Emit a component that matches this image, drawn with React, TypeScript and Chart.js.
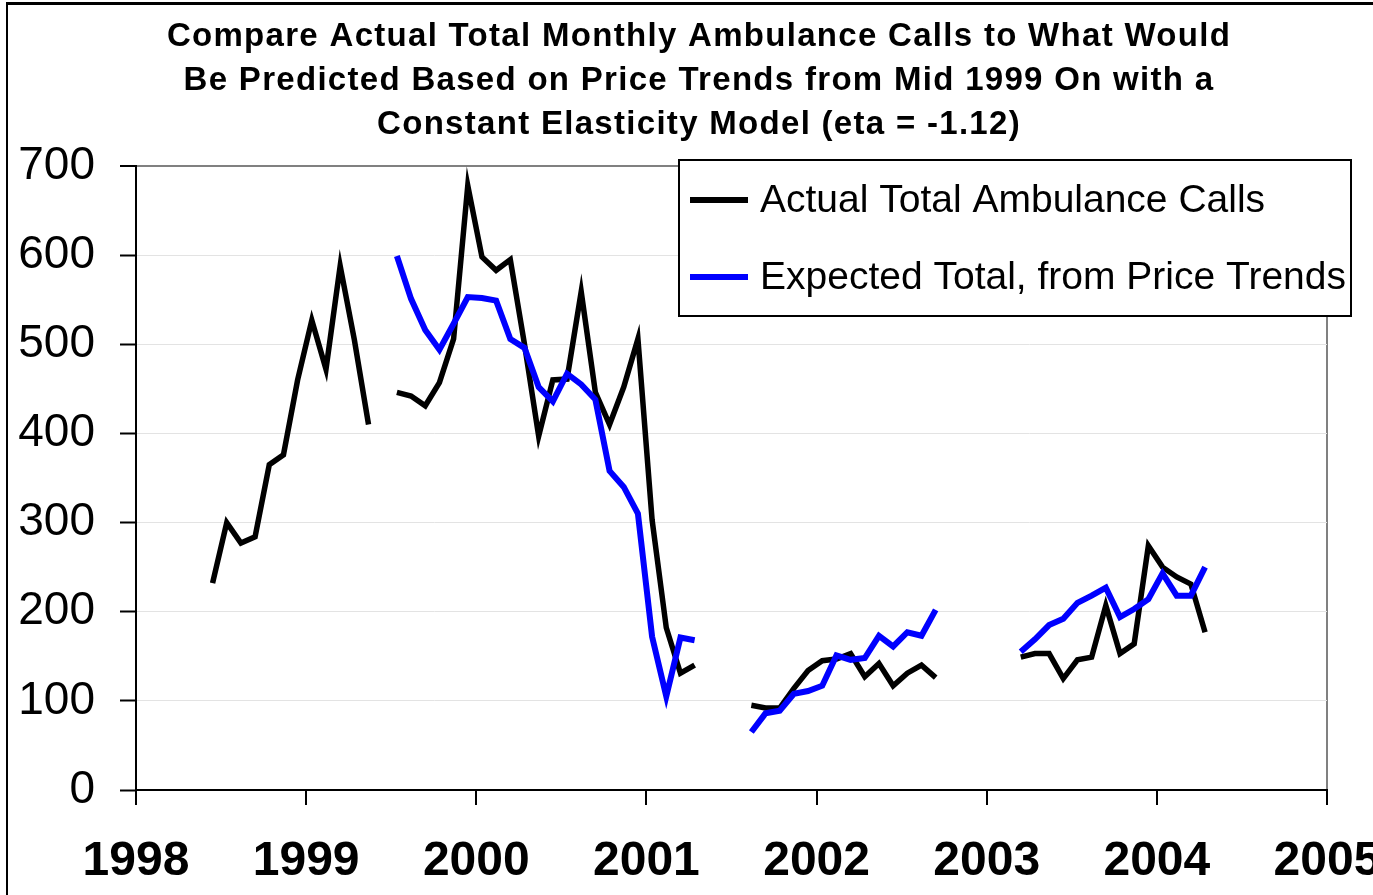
import React, { useEffect, useRef } from 'react';
import { Chart, registerables } from 'chart.js';

Chart.register(...registerables);

const FONT = '"Liberation Sans", Arial, Helvetica, sans-serif';

// Monthly series start in June 1998 (month index 5, 0-based)
const FIRST_YEAR = 1998;
const FIRST_MONTH = 5;

const titleLines = [
  'Compare Actual Total Monthly Ambulance Calls to What Would',
  'Be Predicted Based on Price Trends from Mid 1999 On with a',
  'Constant Elasticity Model (eta = -1.12)',
];

const seriesNames = ['Actual Total Ambulance Calls', 'Expected Total, from Price Trends'];
const seriesColors = ['#000000', '#0000FF'];

// Jun 1998 .. Apr 2004, null = no data
const actualCalls: (number | null)[] = [
  232, 300, 277, 284, 365, 376, 460, 527, 472, 588, 505, 410,
  null,
  446, 442, 431, 457, 506, 678, 598, 583, 595, 500, 397, 460, 461, 559, 446, 410, 452, 506, 303, 182, 131, 140,
  null, null, null,
  95, 92, 92, 114, 134, 145, 147, 153, 127, 142, 117, 131, 140, 126,
  null, null, null, null, null,
  149, 153, 153, 125, 146, 149, 207, 153, 164, 274, 250, 239, 231, 177,
];

const expectedTotal: (number | null)[] = [
  null, null, null, null, null, null, null, null, null, null, null, null,
  null,
  599, 551, 516, 494, 523, 553, 552, 549, 506, 496, 452, 436, 467, 455, 438, 358, 340, 310, 172, 105, 171, 168,
  null, null, null,
  65, 86, 89, 108, 111, 117, 151, 146, 148, 173, 161, 177, 173, 202,
  null, null, null, null, null,
  155, 169, 185, 192, 210, 218, 227, 194, 203, 214, 243, 218, 218, 250,
];

const yearMin = 1998;
const yearMax = 2005;
const yMin = 0;
const yMax = 700;
const yStep = 100;

function toPoints(values: (number | null)[]) {
  return values.map((v, i) => ({ x: FIRST_YEAR + (FIRST_MONTH + i + 0.4) / 12, y: v }));
}

const overlayPlugin = {
  id: 'overlay',
  afterDraw(chart: any) {
    const ctx = chart.ctx as CanvasRenderingContext2D;
    ctx.save();
    // Title
    ctx.fillStyle = '#000';
    ctx.textAlign = 'center';
    ctx.textBaseline = 'middle';
    ctx.font = `bold 33px ${FONT}`;
    (ctx as any).letterSpacing = '1.3px';
    titleLines.forEach((t, i) => ctx.fillText(t, 699, 37 + i * 44));
    (ctx as any).letterSpacing = '0px';

    // Legend
    ctx.fillStyle = '#fff';
    ctx.fillRect(678, 160, 674, 156);
    ctx.strokeStyle = '#000';
    ctx.lineWidth = 2;
    ctx.strokeRect(679, 160, 672, 156);
    ctx.font = `39px ${FONT}`;
    ctx.textAlign = 'left';
    ctx.textBaseline = 'middle';
    seriesNames.forEach((name, i) => {
      const y = 200 + i * 77;
      ctx.strokeStyle = seriesColors[i];
      ctx.lineWidth = 6;
      ctx.beginPath();
      ctx.moveTo(690, y);
      ctx.lineTo(748, y);
      ctx.stroke();
      ctx.fillStyle = '#000';
      ctx.fillText(name, 760, y + 1);
    });
    ctx.restore();
  },
};

export default function App() {
  const canvasRef = useRef<HTMLCanvasElement | null>(null);

  useEffect(() => {
    if (!canvasRef.current) return;
    Chart.defaults.font.family = FONT;
    const chart = new Chart(canvasRef.current, {
      type: 'line',
      data: {
        datasets: [
          {
            label: seriesNames[0],
            data: toPoints(actualCalls) as any,
            borderColor: seriesColors[0],
            backgroundColor: seriesColors[0],
            borderWidth: 5.5,
            pointRadius: 0,
            tension: 0,
            spanGaps: false,
            order: 2,
          },
          {
            label: seriesNames[1],
            data: toPoints(expectedTotal) as any,
            borderColor: seriesColors[1],
            backgroundColor: seriesColors[1],
            borderWidth: 6,
            pointRadius: 0,
            tension: 0,
            spanGaps: false,
            order: 1,
          },
        ],
      },
      options: {
        animation: false,
        responsive: false,
        maintainAspectRatio: false,
        layout: { padding: { top: 166, right: 46, bottom: 0, left: 0 } },
        plugins: {
          legend: { display: false },
          title: { display: false },
          tooltip: { enabled: false },
        },
        scales: {
          x: {
            type: 'linear',
            min: yearMin,
            max: yearMax,
            ticks: {
              stepSize: 1,
              autoSkip: false,
              maxRotation: 0,
              color: '#000',
              padding: 33,
              font: { size: 48, weight: 'bold', lineHeight: 1 },
              callback: (v: any) => String(v),
            },
            grid: {
              color: (c: any) => (c.tick && c.tick.value === yearMax ? '#808080' : 'rgba(0,0,0,0)'),
              lineWidth: 2,
              tickColor: '#000',
              tickWidth: 2,
              tickLength: 15,
            },
            border: { color: '#000', width: 2 },
            afterFit: (s: any) => {
              s.height = 105;
              s.paddingLeft = 0;
              s.paddingRight = 0;
            },
          },
          y: {
            min: yMin,
            max: yMax,
            ticks: {
              stepSize: yStep,
              color: '#000',
              padding: 25,
              font: { size: 46 },
            },
            grid: {
              color: (c: any) => (c.tick && c.tick.value === yMax ? '#808080' : '#e3e3e3'),
              lineWidth: (c: any) => (c.tick && c.tick.value === yMax ? 2 : 1),
              tickColor: '#000',
              tickWidth: 2,
              tickLength: 16,
            },
            border: { color: '#000', width: 2 },
            afterFit: (s: any) => {
              s.width = 136;
              s.paddingTop = 0;
              s.paddingBottom = 0;
            },
          },
        },
      },
      plugins: [overlayPlugin],
    } as any);
    return () => chart.destroy();
  }, []);

  return (
    <div style={{ position: 'absolute', left: 0, top: 0, width: 1373, height: 895, background: '#fff', overflow: 'hidden' }}>
      <canvas ref={canvasRef} width={1373} height={895} style={{ display: 'block', width: 1373, height: 895 }} />
      <div
        style={{
          position: 'absolute',
          left: 6,
          top: 2,
          width: 1400,
          height: 920,
          borderLeft: '2px solid #000',
          borderTop: '3px solid #000',
          pointerEvents: 'none',
        }}
      />
    </div>
  );
}
